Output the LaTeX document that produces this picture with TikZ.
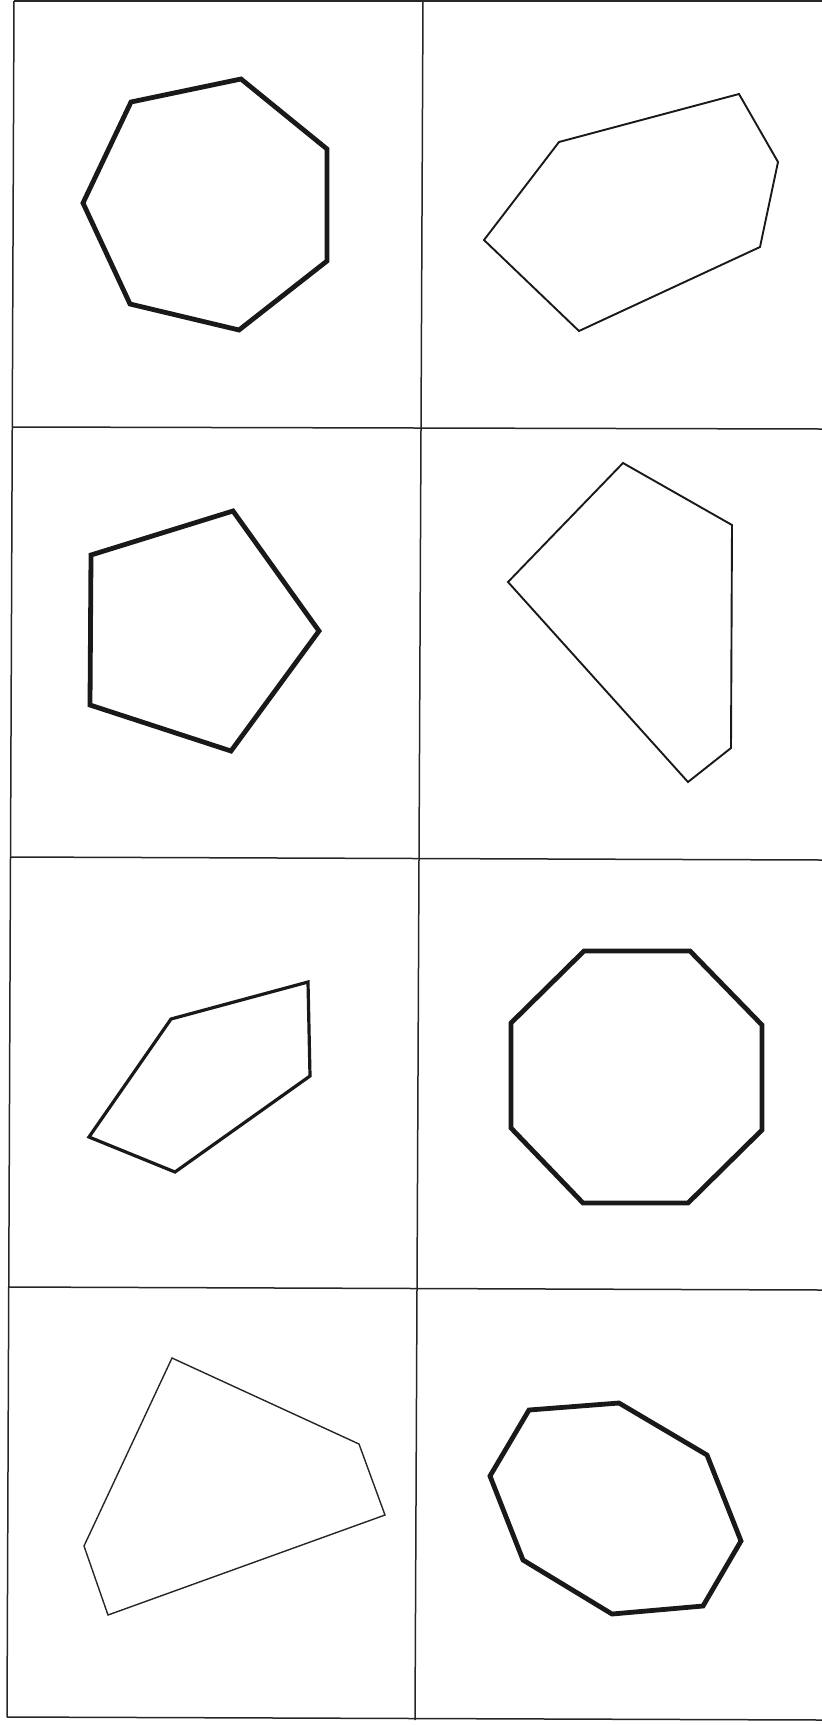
\documentclass[tikz,border=0pt]{standalone}
\begin{document}
\begin{tikzpicture}[x=1pt,y=-1pt,
  gridline/.style={line width=1.5pt,black!85},
  thickpoly/.style={line width=4.8pt,black!90,line join=miter},
  midpoly/.style={line width=3.2pt,black!90},
  thinpoly/.style={line width=1.9pt,black!90},
  hairpoly/.style={line width=1.4pt,black!85}]
\useasboundingbox (0,0) rectangle (822,1725);
% grid
\draw[gridline] (14,1) -- (822,1);
\draw[gridline] (14,1) -- (7,1717);
\draw[gridline] (423,0) -- (415,1720);
\draw[gridline] (13,427) -- (822,429);
\draw[gridline] (10,857) -- (822,860);
\draw[gridline] (8,1287) -- (822,1290);
\draw[gridline] (7,1717) -- (822,1720);
% cell 1: heptagon
\draw[thickpoly] (131,102) -- (241,79) -- (327,149) -- (327,261) -- (239,330) -- (130,304) -- (83,203) -- cycle;
% cell 2: hexagon
\draw[thinpoly] (559,142) -- (739,94) -- (778,162) -- (760,247) -- (579,331) -- (484,240) -- cycle;
% cell 3: pentagon
\draw[thickpoly] (91,555) -- (233,511) -- (319,631) -- (231,751) -- (90,705) -- cycle;
% cell 4: pentagon
\draw[thinpoly] (623,463) -- (732,525) -- (731,748) -- (688,782) -- (508,582) -- cycle;
% cell 5: pentagon
\draw[midpoly] (171,1019) -- (308,982) -- (310,1076) -- (175,1172) -- (89,1137) -- cycle;
% cell 6: octagon
\draw[thickpoly] (584,951) -- (690,951) -- (762,1025) -- (762,1130) -- (688,1203) -- (583,1203) -- (511,1128) -- (511,1023) -- cycle;
% cell 7: pentagon
\draw[hairpoly] (172,1358) -- (359,1444) -- (385,1515) -- (108,1615) -- (84,1546) -- cycle;
% cell 8: octagon
\draw[thickpoly] (529,1410) -- (619,1403) -- (707,1455) -- (741,1541) -- (703,1606) -- (612,1614) -- (523,1560) -- (490,1476) -- cycle;
\end{tikzpicture}
\end{document}
